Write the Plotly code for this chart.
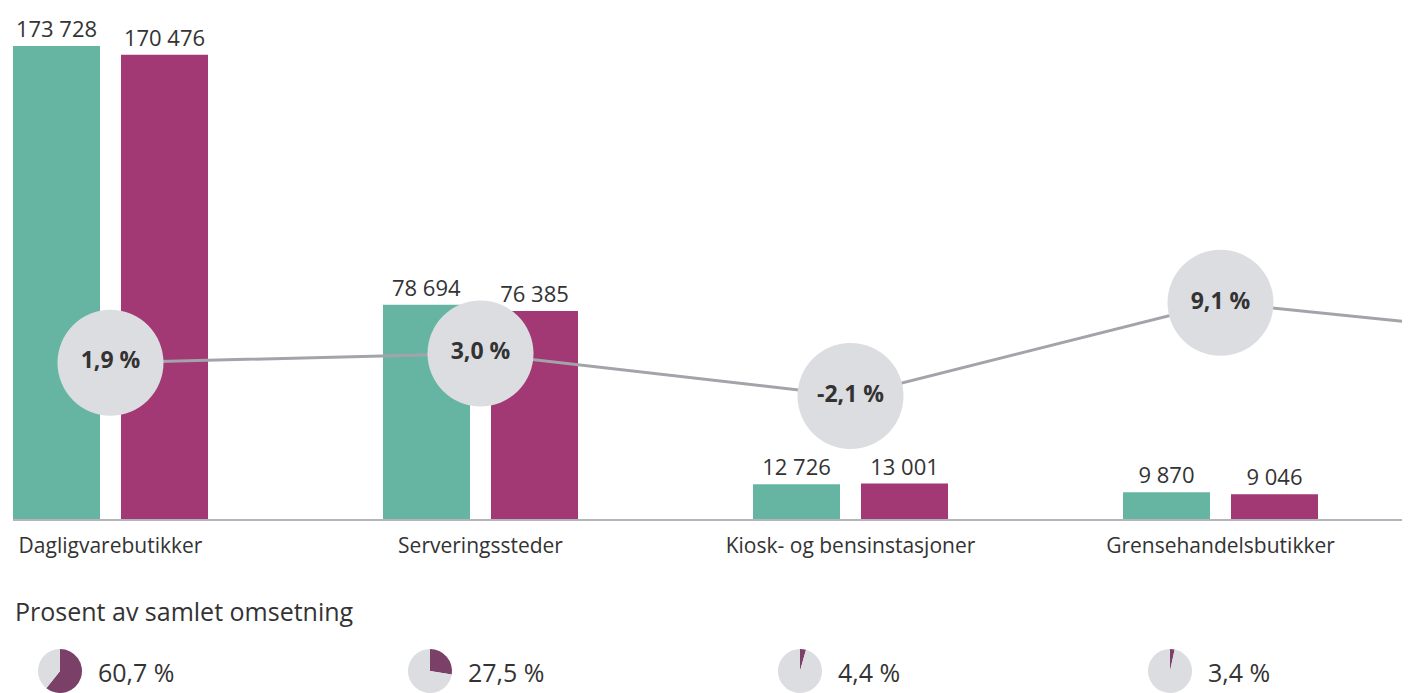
import plotly.graph_objects as go

# ---------------- data ----------------
categories = ["Dagligvarebutikker", "Serveringssteder", "Kiosk- og bensinstasjoner", "Grensehandelsbutikker"]
omsetning_a = [173728, 78694, 12726, 9870]    # teal series
omsetning_b = [170476, 76385, 13001, 9046]    # magenta series
# growth (%) – the last value belongs to a category beyond the visible crop
vekst = [1.9, 3.0, -2.1, 9.1, 4.6]
andel = [60.7, 27.5, 4.4, 3.4]                # share of total turnover (%)
pie_title = "Prosent av samlet omsetning"

# ---------------- style / geometry ----------------
BODY = 8                   # browser body margin
W, H = 1410 - BODY, 693 - BODY
ML = 13 - BODY
FONT = "Open Sans"
TXT = "#333333"
TEAL = "#66b5a3"
MAG = "#a23874"
PIE_PURPLE = "#7b4068"
PIE_GREY = "#dcdde1"
LINE = "#a3a4aa"

PX_PER_CAT = 370.0
C0 = 110.5                 # page-pixel centre of first group
BAR_W = 87 / PX_PER_CAT
OFF_A = (13 - C0) / PX_PER_CAT
OFF_B = (121 - C0) / PX_PER_CAT
x_left = (13 - C0) / PX_PER_CAT
x_right = (1410 - C0) / PX_PER_CAT

BASE_PX = 519              # page pixel of the baseline
plot_h = BASE_PX - BODY
y_domain0 = (H - plot_h) / H
units_per_px = 173728 / (519 - 46)
y_max = plot_h * units_per_px

# secondary axis mapping (page px): px = 378.5 - 8.318 * v
y2_lo = (378.5 - BASE_PX) / 8.318
y2_hi = (378.5 - BODY) / 8.318


def fmt_int(v):
    return f"{v:,}".replace(",", " ")


def fmt_pct(v):
    return f"{v:.1f}".replace(".", ",") + " %"


def fx(px):
    return (px - 13) / (1410 - 13)


def fy(py):
    return 1 - (py - BODY) / H


xs = list(range(len(categories)))

fig = go.Figure()
fig.add_trace(go.Bar(
    x=xs, y=omsetning_a, width=BAR_W, offset=OFF_A,
    marker=dict(color=TEAL, line=dict(width=0)),
    text=[fmt_int(v) for v in omsetning_a], textposition="outside",
    textfont=dict(family=FONT, size=22, color=TXT), cliponaxis=False,
    constraintext="none", showlegend=False, hoverinfo="skip",
))
fig.add_trace(go.Bar(
    x=xs, y=omsetning_b, width=BAR_W, offset=OFF_B,
    marker=dict(color=MAG, line=dict(width=0)),
    text=[fmt_int(v) for v in omsetning_b], textposition="outside",
    textfont=dict(family=FONT, size=22, color=TXT), cliponaxis=False,
    constraintext="none", showlegend=False, hoverinfo="skip",
))
fig.add_trace(go.Scatter(
    x=list(range(len(vekst))), y=vekst, yaxis="y2",
    mode="lines+markers+text",
    line=dict(color=LINE, width=3),
    marker=dict(size=106, color=PIE_GREY, line=dict(width=0)),
    text=[fmt_pct(v) if i < len(categories) else "" for i, v in enumerate(vekst)],
    textposition="middle center",
    textfont=dict(family=FONT, size=23, color=TXT, weight="bold"),
    showlegend=False, hoverinfo="skip", cliponaxis=True,
))

# pies
for i, p in enumerate(andel):
    cx = C0 - 50.5 + PX_PER_CAT * i
    r = 22.5
    fig.add_trace(go.Pie(
        values=[p, 100 - p], sort=False, direction="clockwise", rotation=0,
        marker=dict(colors=[PIE_PURPLE, PIE_GREY], line=dict(width=0)),
        textinfo="none", hoverinfo="skip", showlegend=False,
        domain=dict(x=[fx(cx - r), fx(cx + r)], y=[0, fy(649)]),
    ))

annotations = [dict(
    text=pie_title, xref="paper", yref="paper", x=fx(13), y=fy(611),
    xanchor="left", yanchor="middle", showarrow=False,
    font=dict(family=FONT, size=25, color=TXT),
)]
for i, p in enumerate(andel):
    annotations.append(dict(
        text=fmt_pct(p), xref="paper", yref="paper",
        x=fx(C0 - 50.5 + PX_PER_CAT * i + 36), y=fy(672),
        xanchor="left", yanchor="middle", showarrow=False,
        font=dict(family=FONT, size=25, color=TXT),
    ))

fig.update_layout(
    width=W, height=H,
    margin=dict(l=ML, r=0, t=0, b=0, pad=0),
    paper_bgcolor="white", plot_bgcolor="white",
    barmode="overlay",
    font=dict(family=FONT, color=TXT),
    xaxis=dict(
        range=[x_left, x_right], tickvals=xs, ticktext=categories,
        showgrid=False, zeroline=False, showline=True, linecolor="#b4b5ba", linewidth=2,
        ticks="outside", ticklen=7, tickcolor="rgba(0,0,0,0)",
        tickfont=dict(family=FONT, size=21, color=TXT), fixedrange=True,
    ),
    yaxis=dict(
        domain=[y_domain0, 1], range=[0, y_max], visible=False, fixedrange=True,
    ),
    yaxis2=dict(
        domain=[y_domain0, 1], range=[y2_lo, y2_hi], overlaying="y", visible=False,
        fixedrange=True,
    ),
    annotations=annotations,
)

fig.write_html("out.html", config={"displayModeBar": False})
